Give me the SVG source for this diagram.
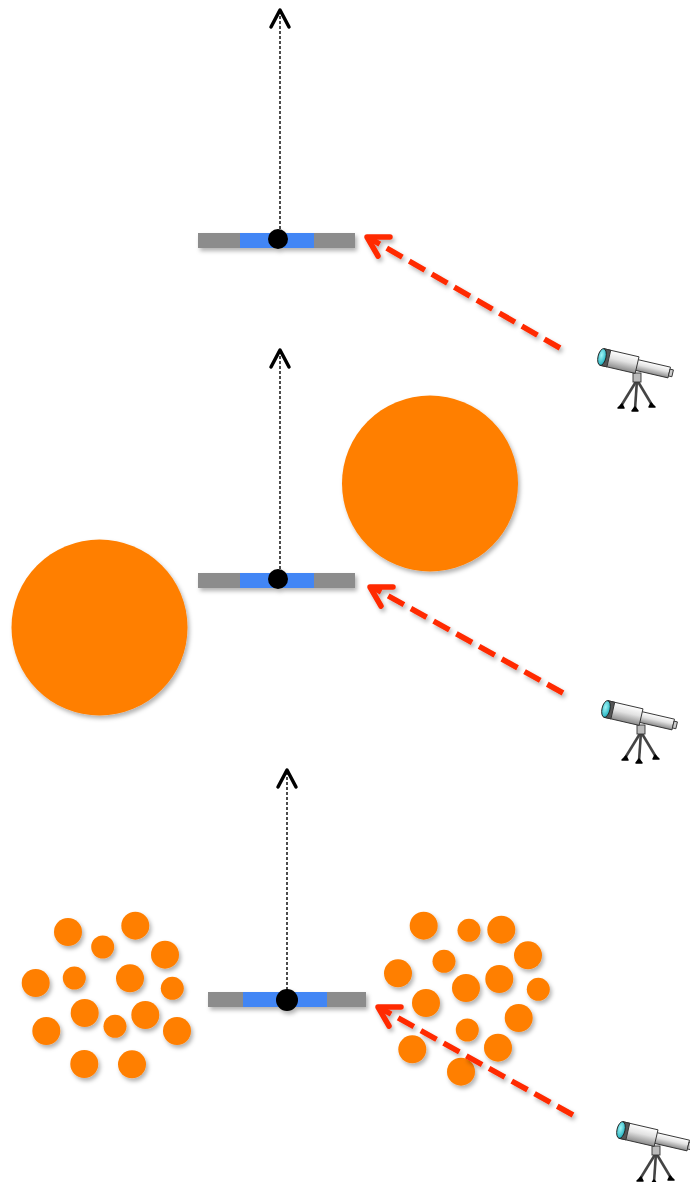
<svg xmlns="http://www.w3.org/2000/svg" xmlns:xlink="http://www.w3.org/1999/xlink" width="690" height="1182" viewBox="0 0 690 1182">
  <style>
    .bar { fill: #8c8c8c; }
    .slot { fill: #4286f5; }
    .dot { fill: #000; }
    .axis { stroke: #000; stroke-width: 1.4; stroke-dasharray: 3 2; fill: none; }
    .axishead { stroke: #000; stroke-width: 3.5; fill: none; stroke-linecap: round; stroke-linejoin: round; }
    .ray { stroke: #ff2a00; stroke-width: 5.5; stroke-dasharray: 18 8; fill: none; }
    .rayhead { stroke: #ff2a00; stroke-width: 5.5; fill: none; stroke-linecap: round; stroke-linejoin: round; }
    .body { fill: #ff7f00; }
    .leg { stroke: #444; stroke-width: 2.6; fill: none; }
  </style>
  <defs>
    <filter id="shadow" x="-20%" y="-20%" width="150%" height="160%">
      <feDropShadow dx="2" dy="3" stdDeviation="2" flood-color="#000" flood-opacity="0.3"/>
    </filter>
    <linearGradient id="tube" x1="0" y1="0" x2="0" y2="1">
      <stop offset="0" stop-color="#ffffff"/>
      <stop offset="0.45" stop-color="#e2e2e2"/>
      <stop offset="1" stop-color="#8a8a8a"/>
    </linearGradient>
    <radialGradient id="lens" cx="0.4" cy="0.4" r="0.7">
      <stop offset="0" stop-color="#9ff4f6"/>
      <stop offset="1" stop-color="#11a9b8"/>
    </radialGradient>
    <!-- small telescope icon, lens at local (22,17) -->
    <g id="scope">
      <g class="leg">
        <line x1="57" y1="40" x2="41" y2="66"/>
        <line x1="57" y1="40" x2="55" y2="69"/>
        <line x1="57" y1="40" x2="72" y2="65"/>
      </g>
      <path d="M38,68 L42,64 L44,68 Z M52,71 L55,67 L58,71 Z M69,67 L71,63 L75,67 Z" fill="#000" stroke="#000" stroke-width="1.5" stroke-linejoin="round"/>
      <rect x="53" y="33" width="8" height="9" fill="#bbb" stroke="#333" stroke-width="0.9"/>
      <g transform="rotate(13 22 17)">
        <rect x="57" y="11.5" width="34" height="11" fill="url(#tube)" stroke="#333" stroke-width="0.9"/>
        <rect x="91" y="13.5" width="3.5" height="7" fill="#ccc" stroke="#333" stroke-width="0.9"/>
        <rect x="22" y="8.5" width="36" height="17" fill="url(#tube)" stroke="#333" stroke-width="0.9"/>
        <rect x="22" y="8.5" width="7" height="17" fill="#555" stroke="#333" stroke-width="0.9"/>
        <ellipse cx="22" cy="17" rx="4" ry="8.5" fill="url(#lens)" stroke="#222" stroke-width="0.9"/>
      </g>
    </g>
  </defs>

  <!-- bodies -->
  <g id="bodies" filter="url(#shadow)">
    <circle class="body" cx="430" cy="483.5" r="88"/>
    <circle class="body" cx="99.5" cy="627.5" r="88"/>
    <!-- left cluster -->
    <circle class="body" cx="68" cy="932" r="14"/>
    <circle class="body" cx="102.7" cy="947" r="11.5"/>
    <circle class="body" cx="135.3" cy="925.7" r="14"/>
    <circle class="body" cx="165" cy="954.7" r="14"/>
    <circle class="body" cx="35.7" cy="983" r="14"/>
    <circle class="body" cx="74.3" cy="978" r="11.5"/>
    <circle class="body" cx="130" cy="978.3" r="14"/>
    <circle class="body" cx="172.3" cy="988.3" r="11.5"/>
    <circle class="body" cx="84.7" cy="1013" r="14"/>
    <circle class="body" cx="115" cy="1026.3" r="11.5"/>
    <circle class="body" cx="145.3" cy="1015" r="14"/>
    <circle class="body" cx="46.3" cy="1031" r="14"/>
    <circle class="body" cx="177" cy="1031" r="14"/>
    <circle class="body" cx="84.3" cy="1064" r="14"/>
    <circle class="body" cx="132" cy="1064.3" r="14"/>
    <!-- right cluster -->
    <circle class="body" cx="423.7" cy="925.7" r="14"/>
    <circle class="body" cx="469" cy="930.3" r="11.5"/>
    <circle class="body" cx="501.3" cy="929.7" r="14"/>
    <circle class="body" cx="528" cy="955.3" r="14"/>
    <circle class="body" cx="398" cy="973.3" r="14"/>
    <circle class="body" cx="444" cy="961.3" r="11.5"/>
    <circle class="body" cx="466" cy="988" r="14"/>
    <circle class="body" cx="499.3" cy="979" r="14"/>
    <circle class="body" cx="538.3" cy="989.3" r="11.5"/>
    <circle class="body" cx="426" cy="1003" r="14"/>
    <circle class="body" cx="518.7" cy="1018" r="14"/>
    <circle class="body" cx="467.3" cy="1030" r="11.5"/>
    <circle class="body" cx="412.3" cy="1049.3" r="14"/>
    <circle class="body" cx="498" cy="1047.7" r="14"/>
    <circle class="body" cx="461" cy="1071.7" r="14"/>
  </g>

  <!-- target bars -->
  <g id="target1" filter="url(#shadow)">
    <rect class="bar" x="198" y="233" width="157" height="15"/>
    <rect class="slot" x="240" y="233" width="74" height="15"/>
    <circle class="dot" cx="278" cy="239" r="10"/>
  </g>
  <g id="target2" filter="url(#shadow)">
    <rect class="bar" x="198" y="573" width="157" height="15"/>
    <rect class="slot" x="240" y="573" width="74" height="15"/>
    <circle class="dot" cx="278" cy="579" r="10"/>
  </g>
  <g id="target3" filter="url(#shadow)">
    <rect class="bar" x="208" y="992" width="158" height="15"/>
    <rect class="slot" x="243" y="992" width="84" height="15"/>
    <circle class="dot" cx="287" cy="1000" r="11"/>
  </g>

  <!-- telescopes -->
  <g id="scope1"><use xlink:href="#scope" x="580" y="340"/></g>
  <g id="scope2"><use xlink:href="#scope" x="584" y="692"/></g>
  <g id="scope3"><use xlink:href="#scope" x="599" y="1113"/></g>

  <!-- connectors -->
  <g id="connectors">
    <path class="axis" d="M280,239 V12"/>
    <path class="axishead" d="M271,27 L280,10 L289,27"/>
    <path class="axis" d="M280,579 V352"/>
    <path class="axishead" d="M271,367 L280,350 L289,367"/>
    <path class="axis" d="M287,1000 V772"/>
    <path class="axishead" d="M278,787 L287,770 L296,787"/>
    <g filter="url(#shadow)">
      <path class="ray" d="M560,348 L371,239"/>
      <path class="rayhead" d="M390,237 L367,237 L378,256"/>
      <path class="ray" d="M563,693 L374,588"/>
      <path class="rayhead" d="M393,587 L370,587 L381,606"/>
      <path class="ray" d="M573,1115 L382,1009"/>
      <path class="rayhead" d="M401,1007 L378,1007 L389,1026"/>
    </g>
  </g>
</svg>
